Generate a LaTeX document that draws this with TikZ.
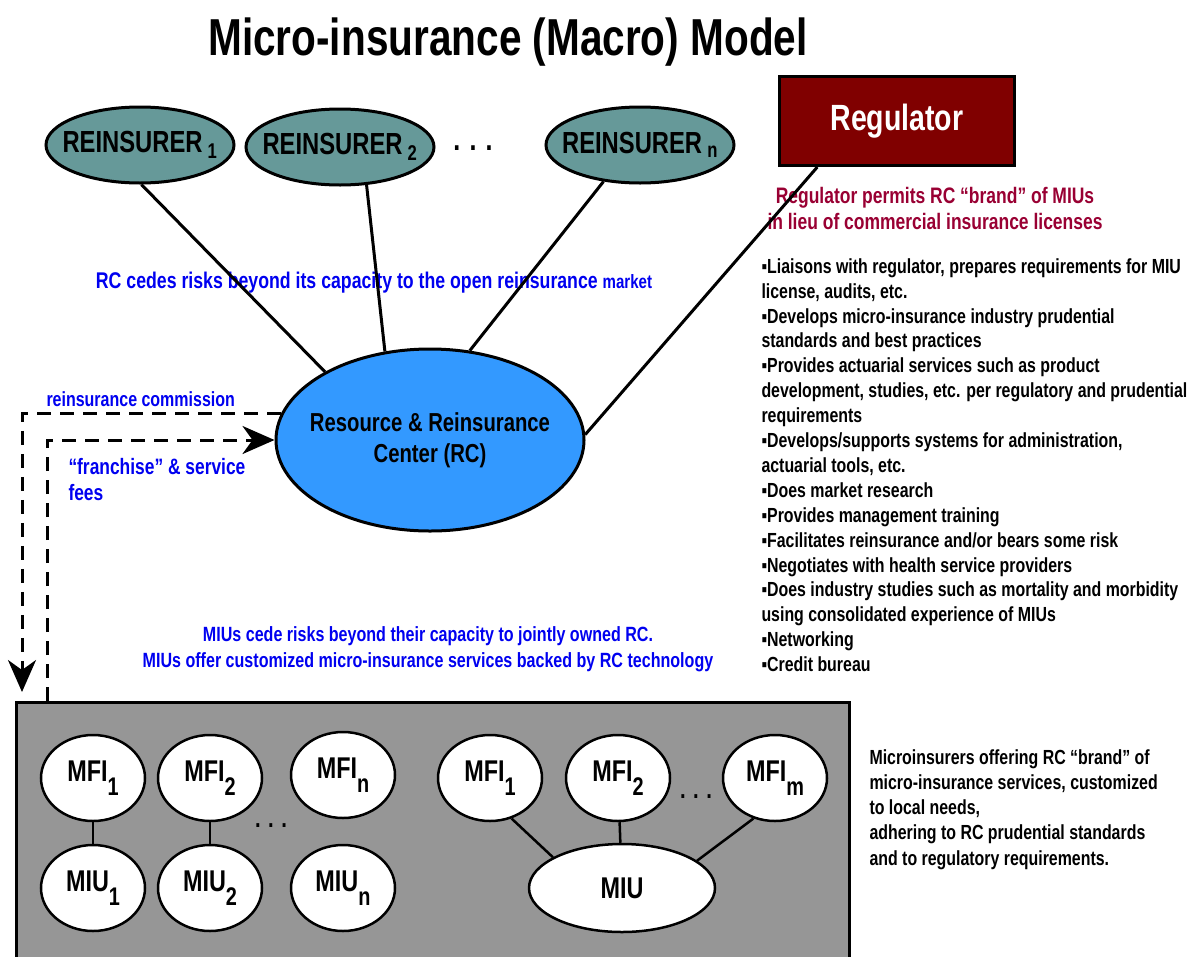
\documentclass[tikz,border=0pt]{standalone}
\usepackage{fontspec}
\setmainfont{Liberation Sans}[FakeStretch=0.78]
\usetikzlibrary{arrows.meta,shapes.geometric}
\definecolor{reinsfill}{RGB}{102,153,153}
\definecolor{rcfill}{RGB}{51,153,255}
\definecolor{regfill}{RGB}{128,0,0}
\definecolor{regtext}{RGB}{153,0,51}
\definecolor{pool}{RGB}{150,150,150}
\definecolor{note}{RGB}{0,0,240}
\newcommand{\lowidx}[1]{\raisebox{-0.45em}{\scalebox{0.85}{#1}}}

\begin{document}
\begin{tikzpicture}[x=1pt,y=-1pt,line width=3pt,font=\bfseries]
\tikzset{reins/.style = {shape=ellipse,draw,fill=reinsfill,minimum width=188pt,minimum height=76pt,inner xsep=-20pt,inner ysep=-4pt,font=\fontsize{30.5}{32}\selectfont\bfseries}}
\tikzset{small/.style = {shape=ellipse,draw,fill=white,line width=2.5pt,minimum width=104pt,minimum height=86pt,inner sep=0pt,font=\fontsize{30}{32}\selectfont\bfseries}}
\tikzset{edge/.style = {line width=2.5pt}}
\tikzset{flow/.style = {dashed,dash pattern=on 14pt off 9pt,-{Stealth[length=32pt,width=28pt,inset=10pt]}}}
\tikzset{bluenote/.style = {text=note,inner sep=0pt}}
\useasboundingbox (0,0) rectangle (1190,956);
% title
\node[font=\fontsize{52}{56}\selectfont\bfseries] (title) at (508,42) {Micro-insurance (Macro) Model};
% reinsurers
\node[reins] (r1) at (140,145) {REINSURER\,\textsubscript{1}};
\node[reins] (r2) at (340,147) {REINSURER\,\textsubscript{2}};
\node[font=\fontsize{32}{32}\selectfont\bfseries] (rdots) at (473,148) {. . .};
\node[reins] (rn) at (640,145) {REINSURER\,\textsubscript{n}};
% regulator
\node[draw,fill=regfill,minimum width=235pt,minimum height=89pt,text=white,font=\fontsize{36.5}{38}\selectfont\bfseries] (reg) at (897,121) {Regulator};
\node[text=regtext,align=center,font=\fontsize{22.4}{26}\selectfont\bfseries] (regnote) at (935,208) {Regulator permits RC “brand” of MIUs\\in lieu of commercial insurance licenses};
% resource center
\node[shape=ellipse,draw,fill=rcfill,minimum width=308pt,minimum height=182pt,inner xsep=-15pt,align=center,font=\fontsize{26}{31}\selectfont\bfseries] (rc) at (430,440) {Resource \& Reinsurance\\Center (RC)};
% notes
\node[bluenote,font=\fontsize{22.7}{26}\selectfont\bfseries] (cede) at (374,283) {RC cedes risks beyond its capacity to the open reinsurance {\fontsize{19.3}{20}\selectfont market}};
\node[bluenote,anchor=west,font=\fontsize{20.5}{26}\selectfont\bfseries] (comm) at (45,399) {reinsurance commission};
\node[bluenote,anchor=west,align=left,font=\fontsize{22.3}{26}\selectfont\bfseries] (fees) at (67,480) {“franchise” \& service\\fees};
\node[bluenote,align=center,font=\fontsize{20.6}{26}\selectfont\bfseries] (miunote) at (428,649) {MIUs cede risks beyond their capacity to jointly owned RC.\\MIUs offer customized micro-insurance services backed by RC technology};
% services
\node[anchor=north west,align=left,inner sep=0pt,font=\fontsize{20.4}{24.9}\selectfont\bfseries] (svc) at (760,257) {▪Liaisons with regulator, prepares requirements for MIU\\license, audits, etc.\\▪Develops micro-insurance industry prudential\\standards and best practices\\▪Provides actuarial services such as product\\development, studies, etc. per regulatory and prudential\\requirements\\▪Develops/supports systems for administration,\\actuarial tools, etc.\\▪Does market research\\▪Provides management training\\▪Facilitates reinsurance and/or bears some risk\\▪Negotiates with health service providers\\▪Does industry studies such as mortality and morbidity\\using consolidated experience of MIUs\\▪Networking\\▪Credit bureau};
%edges
\draw (r1.-88) -- (rc.147);
\draw (r2.-55) -- (rc.117);
\draw (rn.-135) -- (rc.66);
\draw (reg.210.5) -- (rc.2);
% microinsurers
\node[draw,fill=pool,anchor=north west,minimum width=833pt,minimum height=270pt] (box) at (15,701) {};
\coordinate (down) at (22,692);
\coordinate (up) at (47,701);
\draw[flow] (rc.170) -| (down);
\draw[flow] (up) |- (rc.west);
\node[small] (f1) at (93,778) {MFI\lowidx{1}};
\node[small] (f2) at (210,778) {MFI\lowidx{2}};
\node[small] (fn) at (343,775) {MFI\lowidx{n}};
\node[small] (u1) at (93,888) {MIU\lowidx{1}};
\node[small] (u2) at (210,888) {MIU\lowidx{2}};
\node[small] (un) at (343,888) {MIU\lowidx{n}};
\node[font=\fontsize{26}{26}\selectfont\bfseries] (udots) at (271,826) {. . .};
\node[small] (g1) at (490,778) {MFI\lowidx{1}};
\node[small] (g2) at (618,778) {MFI\lowidx{2}};
\node[small] (gm) at (775,778) {MFI\lowidx{m}};
\node[font=\fontsize{26}{26}\selectfont\bfseries] (gdots) at (696,797) {. . .};
\node[small,minimum width=186pt,minimum height=88pt] (miu) at (622,888) {MIU};
\draw[edge] (g1.-62) -- (miu.156);
\draw[edge] (g2) -- (miu);
\draw[edge] (gm.-118) -- (miu.20);
\draw[edge] (f1) -- (u1);
\draw[edge] (f2) -- (u2);
\node[anchor=north west,align=left,inner sep=0pt,font=\fontsize{20.4}{25.2}\selectfont\bfseries] (brand) at (868,748) {Microinsurers offering RC “brand” of\\micro-insurance services, customized\\to local needs,\\adhering to RC prudential standards\\and to regulatory requirements.};
\end{tikzpicture}
\end{document}
